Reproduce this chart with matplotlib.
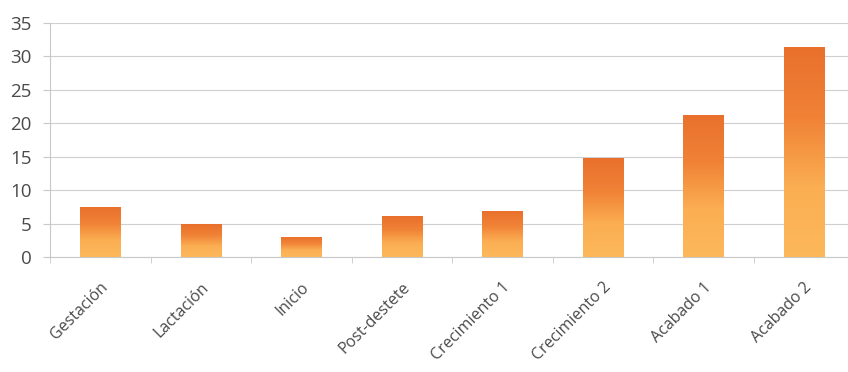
import numpy as np
import matplotlib
matplotlib.use("Agg")
import matplotlib.pyplot as plt
from matplotlib.colors import LinearSegmentedColormap

categories = ["Gestación", "Lactación", "Inicio", "Post-destete",
              "Crecimiento 1", "Crecimiento 2", "Acabado 1", "Acabado 2"]
values = [7.5, 4.9, 3.0, 6.1, 6.9, 14.8, 21.3, 31.4]
yticks = [0, 5, 10, 15, 20, 25, 30, 35]

plt.rcParams['font.family'] = ['Open Sans', 'DejaVu Sans']

fig = plt.figure(figsize=(8.48, 3.72), dpi=100)
ax = fig.add_axes([50/848, (372-257)/372, 804/848, (257-23)/372])

x = np.arange(len(categories))
bw = 0.4
bars = ax.bar(x, values, width=bw, color='none', edgecolor='none', zorder=3)

cmap = LinearSegmentedColormap.from_list('og', ['#FDB85C', '#FBAE52', '#F08236', '#E9702C'])
grad = np.linspace(0, 1, 256).reshape(-1, 1)
for b in bars:
    x0, y0 = b.get_x(), b.get_y()
    w, h = b.get_width(), b.get_height()
    im = ax.imshow(grad, cmap=cmap, aspect='auto', origin='lower',
                   extent=[x0, x0 + w, y0, y0 + h], zorder=3)
    im.set_clip_path(b)

ax.set_xlim(-0.5, len(categories) - 0.5)
ax.set_ylim(0, 35)
ax.set_yticks(yticks)
ax.set_yticklabels([str(t) for t in yticks])
ax.grid(axis='y', color='#cfcfcf', linewidth=0.8, zorder=0)
ax.set_axisbelow(True)

for s in ['top', 'right']:
    ax.spines[s].set_visible(False)
ax.spines['left'].set_color('#c8c8c8')
ax.spines['bottom'].set_color('#c8c8c8')
ax.spines['left'].set_linewidth(0.8)
ax.spines['bottom'].set_linewidth(0.8)

ax.tick_params(axis='y', length=5, color='#c8c8c8', pad=8, labelsize=13.5, labelcolor='#4a4a4a')
ax.set_xticks(x)
ax.set_xticklabels(categories, rotation=45, ha='right', rotation_mode='anchor',
                   fontsize=11.5, color='#4a4a4a')
ax.tick_params(axis='x', which='major', length=0, pad=16)
ax.set_xticks(np.arange(-0.5, len(categories), 1.0), minor=True)
ax.tick_params(axis='x', which='minor', length=4, color='#c8c8c8')

fig.savefig('out.png', dpi=100)
